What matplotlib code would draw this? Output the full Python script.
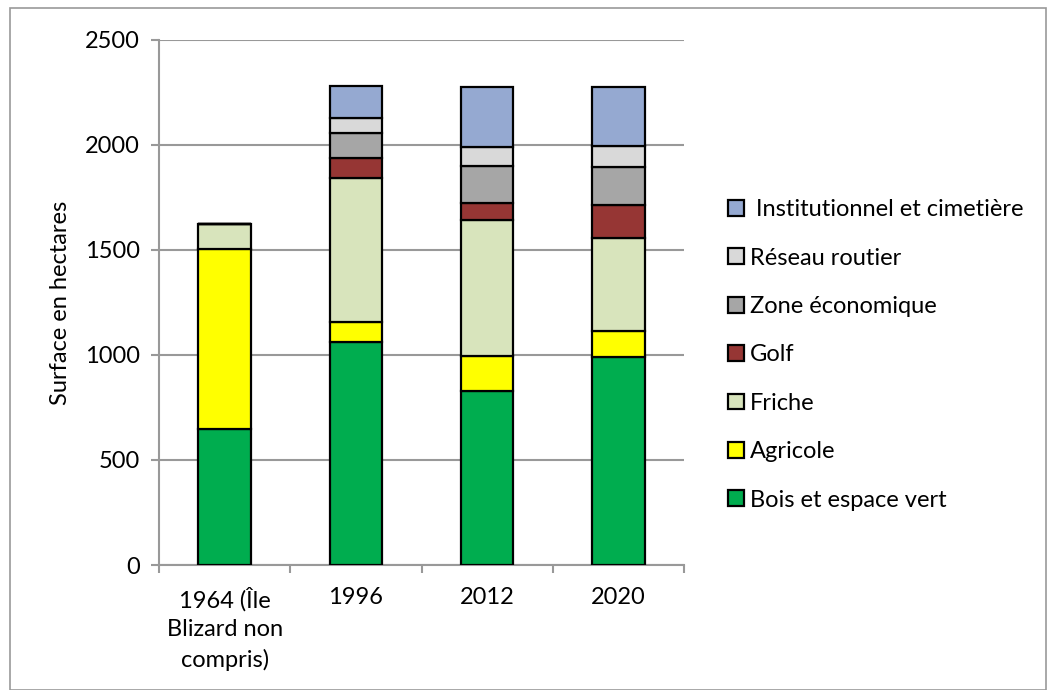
import numpy as np
import matplotlib.pyplot as plt
from matplotlib.patches import Rectangle

plt.rcParams['font.family'] = ['Lato', 'DejaVu Sans']

years = ['1964 (Île\nBlizard non\ncompris)', '1996', '2012', '2020']
series = ['Bois et espace vert', 'Agricole', 'Friche', 'Golf',
          'Zone économique', 'Réseau routier', ' Institutionnel et cimetière']
bois = [650, 1060, 829, 989]
agricole = [855, 97, 165, 125]
friche = [120, 687, 647, 445]
golf = [0, 96, 84, 155]
zone_eco = [0, 119, 176, 181]
reseau = [0, 71, 91, 100]
institution = [0, 151, 284, 281]
colors = ['#00ad4f', '#ffff00', '#d8e4bc', '#963634', '#a6a6a6', '#d9d9d9', '#95a9d1']

values = [bois, agricole, friche, golf, zone_eco, reseau, institution]

fig = plt.figure(figsize=(10.52, 6.9), dpi=100)
ax = fig.add_axes([159/1052, 1-565/690, (684-159)/1052, (565-40)/690])

x = np.arange(len(years))
bottom = np.zeros(len(years))
handles = []
for name, vals, c in zip(series, values, colors):
    vals = np.array(vals, dtype=float)
    b = ax.bar(x, vals, 0.4, bottom=bottom, color=c, edgecolor='black',
               linewidth=1.6, label=name, zorder=3)
    handles.append(b)
    bottom += vals

fs = 17
ax.set_xlim(-0.5, 3.5)
ax.set_ylim(0, 2500)
ax.set_yticks(np.arange(0, 2501, 500))
ax.set_xticks(x)
ax.set_xticklabels(years, fontsize=fs, linespacing=1.45)
ax.set_xticks(np.arange(-0.5, 3.6, 1), minor=True)
ax.tick_params(axis='x', which='major', length=0, pad=16)
ax.tick_params(axis='x', which='minor', length=6, color='#999999', width=1.5)
ax.tick_params(axis='y', length=6, color='#999999', width=1.5, labelsize=fs, pad=8)
ax.yaxis.grid(True, color='#999999', linewidth=1.5, zorder=0)
ax.set_axisbelow(True)
for s in ['top', 'right']:
    ax.spines[s].set_visible(False)
for s in ['left', 'bottom']:
    ax.spines[s].set_color('#999999')
    ax.spines[s].set_linewidth(1.5)
ax.set_ylabel('Surface en hectares', fontsize=fs, labelpad=10)

leg = ax.legend(handles[::-1], series[::-1], loc='upper left',
                bbox_to_anchor=(707/1052, 1-178/690), bbox_transform=fig.transFigure,
                frameon=False, fontsize=fs, handlelength=0.65, handleheight=0.65,
                handletextpad=0.25, labelspacing=1.16)

fig.patches.append(Rectangle((10/1052, 0), 1036/1052, 1-8/690, transform=fig.transFigure,
                             fill=False, edgecolor='#999999', linewidth=1.2))

fig.savefig('out.png', dpi=100)
